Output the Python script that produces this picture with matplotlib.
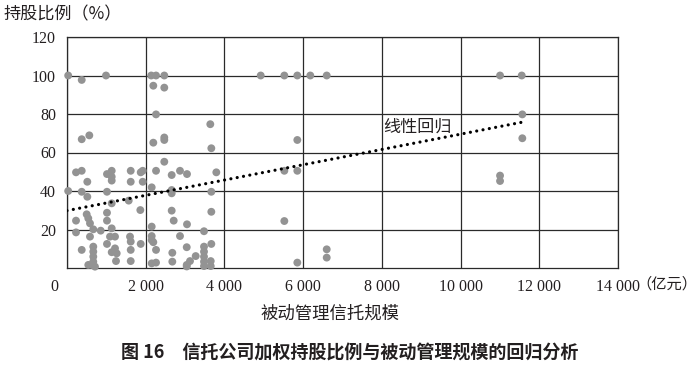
import matplotlib.pyplot as plt
from matplotlib.transforms import ScaledTranslation

# 被动管理信托规模（亿元）与加权持股比例（%）
scale = [30, 991, 2140, 2262, 2472, 4922, 5522, 5852, 6182, 6599, 11003, 11554,
         374, 2193, 2472,
         2262, 11569,
         3641,
         374, 567, 2193, 2472, 2472, 5852, 11569,
         3667,
         2472,
         229, 374, 1016, 1136, 1136, 1136, 1619, 1873, 1924, 2262, 2660, 2871, 3049, 3794, 5522, 5852, 11003, 11003,
         516, 1619, 1924,
         30, 374, 516, 1016, 2152, 2660, 2660, 3667,
         1136, 1568,
         1863, 500, 541, 1016, 2660, 3667,
         229, 584, 1016, 2711, 3049, 5522,
         229, 668, 856, 1136, 2152, 3481,
         584, 1093, 1220, 1601, 1619, 1016, 1873, 2152, 2152, 2193, 2871, 3667,
         374, 668, 1220, 1136, 1619, 2262, 3042, 3481, 6599,
         668, 668, 1263, 2676, 3270, 3481, 3481, 6599,
         668, 628, 711, 541, 1245, 1619, 2152, 2262, 2676, 3125, 3042, 3042, 3481, 3481, 3652, 3652, 5852]
share = [100, 100, 100, 100, 100, 100, 100, 100, 100, 100, 100, 100,
         97.7, 94.7, 93.7,
         79.8, 79.8,
         74.7,
         66.9, 68.9, 65.1, 67.8, 66.5, 66.5, 67.4,
         62.2,
         55.2,
         49.7, 50.5, 48.8, 50.5, 47.4, 45.4, 50.5, 49.7, 50.5, 50.5, 48.3, 50.5, 48.8, 49.7, 50.5, 50.5, 48.0, 45.2,
         44.8, 44.8, 44.8,
         40, 39.6, 37.0, 39.6, 41.9, 40.5, 38.8, 39.6,
         33.6, 35.0,
         30.1, 27.9, 25.8, 28.7, 29.8, 29.2,
         24.6, 23.2, 24.6, 24.6, 22.7, 24.4,
         18.5, 20.1, 19.4, 20.6, 21.5, 19.1,
         16.3, 16.3, 16.3, 16.3, 13.7, 12.5, 12.5, 16.6, 14.5, 13.4, 16.6, 12.5,
         9.4, 11.1, 10.2, 8.2, 9.4, 9.4, 10.8, 11.1, 9.7,
         8.5, 5.9, 7.6, 7.9, 6.2, 8.5, 5.9, 5.4,
         3.3, 1.6, 0.7, 1.6, 3.6, 3.6, 2.4, 2.8, 3.3, 3.6, 1.6, 0.8, 3.3, 1.0, 3.6, 1.0, 2.8]

# 线性回归
reg_x = [0, 11554]
reg_intercept = 29.8
reg_slope = 0.003973

x_ticks = [0, 2000, 4000, 6000, 8000, 10000, 12000, 14000]
x_labels = ["0", "2 000", "4 000", "6 000", "8 000", "10 000", "12 000", "14 000"]
y_ticks = [20, 40, 60, 80, 100, 120]

cjk = ["Noto Sans CJK SC", "DejaVu Sans"]
num = ["Liberation Serif", "DejaVu Serif"]
txt_col = "#231f20"

fig = plt.figure(figsize=(7, 3.66), dpi=100)
ax = fig.add_axes([67 / 700, 1 - 268 / 366, 551 / 700, 231 / 366])

ax.set_xlim(0, 14000)
ax.set_ylim(0, 120)
ax.set_xticks(x_ticks)
ax.set_xticklabels(x_labels, family=num, fontsize=11.5, color=txt_col)
ax.set_yticks(y_ticks)
ax.set_yticklabels([str(v) for v in y_ticks], family=num, fontsize=11.5, color=txt_col)
ax.tick_params(length=0, pad=8)
ax.grid(True, color="#2a2a2a", linewidth=0.9)
ax.set_axisbelow(True)
for s in ax.spines.values():
    s.set_color("#2a2a2a")
    s.set_linewidth(0.9)

ax.scatter(scale, share, s=32, color="#939393", edgecolors="none", zorder=3, clip_on=False)

reg_y = [reg_intercept + reg_slope * v for v in reg_x]
ax.plot(reg_x, reg_y, color="black", linewidth=2.3, linestyle=(0, (0.01, 2.0)),
        dash_capstyle="round", zorder=4)
ax.text(8900, 73.5, "线性回归", family=cjk, fontsize=12.3, color=txt_col, ha="center", va="center")

# 0 标签略向左
lab0 = ax.xaxis.get_major_ticks()[0].label1
lab0.set_transform(lab0.get_transform() + ScaledTranslation(-13 / 100, 0, fig.dpi_scale_trans))

fig.text(3 / 700, 1 - 14 / 366, "持股比例（%）", family=cjk, fontsize=12.3, color=txt_col, va="center")
fig.text(636 / 700, 1 - 284 / 366, "（亿元）", family=cjk, fontsize=11, color=txt_col, va="center")
fig.text(330 / 700, 1 - 314 / 366, "被动管理信托规模", family=cjk, fontsize=12.5, color=txt_col,
         ha="center", va="center")
fig.text(350 / 700, 1 - 352 / 366, "图 16　信托公司加权持股比例与被动管理规模的回归分析", family=cjk,
         fontsize=13, fontweight="bold", color=txt_col, ha="center", va="center")

fig.savefig("out.png", dpi=100)
